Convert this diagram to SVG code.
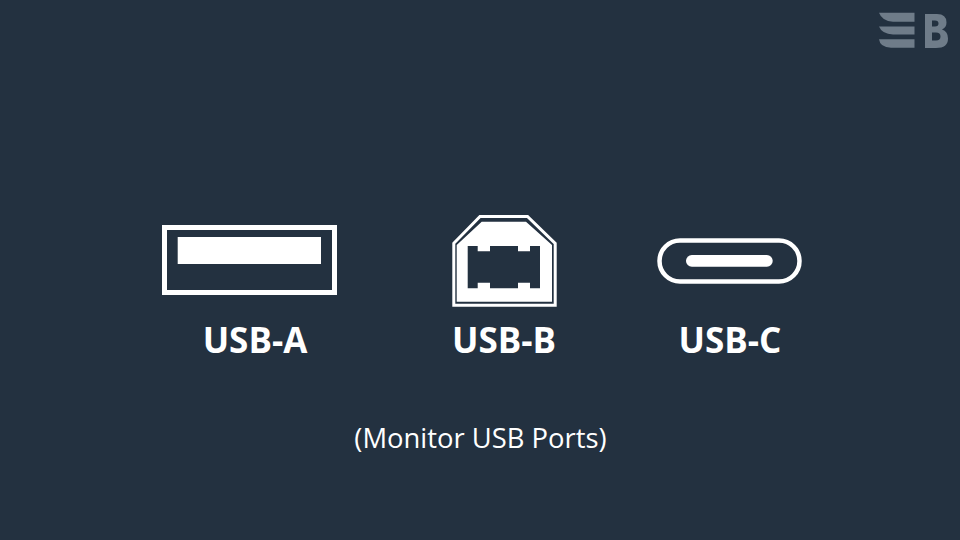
<svg xmlns="http://www.w3.org/2000/svg" width="960" height="540" viewBox="0 0 960 540">
<style>
.l{font-family:"Open Sans","Noto Sans",sans-serif;font-weight:700;font-size:35px;fill:#fff;text-anchor:middle}
.c{font-family:"Open Sans","Noto Sans",sans-serif;font-size:27.400px;fill:#fff;text-anchor:middle}
</style>
<rect width="960" height="540" fill="#233140"/>
<g id="logo" fill="#6f7c89">
<path d="M879 12.700H914.500V21.700H893Q882 21 879 12.700Z"/>
<path d="M879 26.500H914.500V34.500H893Q882 34 879 26.500Z"/>
<path d="M879 39.300H914.500V47.700H891Q880 47.500 879 39.300Z"/>
<path fill-rule="evenodd" d="M925 14H937Q946.500 14 946.500 22.500Q946.500 27.500 942 29.500Q948 31.500 948 38.500Q948 48 936 48H925ZM932 20.500V26.500H935Q938.500 26.500 938.500 23.500Q938.500 20.500 935 20.500ZM932 32.500V40.500H936Q940.500 40.500 940.500 36.500Q940.500 32.500 936 32.500Z"/>
</g>
<g id="usb-a">
<rect x="164.500" y="227.500" width="170" height="65" fill="none" stroke="#fff" stroke-width="5"/>
<rect x="177.700" y="237" width="143.300" height="27" fill="#fff"/>
<text class="l" x="255" y="353">USB-A</text>
</g>
<g id="usb-b">
<path d="M453.800 243.300L480 216.500H527.500L555.200 243.300V305.200H453.800Z" fill="none" stroke="#fff" stroke-width="3"/>
<path fill="#fff" fill-rule="evenodd" d="M456.700 245L481.700 221.700H526L552 245V301.700H456.700ZM467.700 246V288.300H477.700V282.700H490V288.300H518V282.700H530V288.300H540V246H530V251.300H518V246H490V251.300H477.700V246Z"/>
<text class="l" x="504" y="353">USB-B</text>
</g>
<g id="usb-c">
<rect x="659.500" y="240.500" width="140" height="41" rx="20.500" fill="none" stroke="#fff" stroke-width="4.500"/>
<rect x="686" y="255" width="86.700" height="11.700" rx="5.800" fill="#fff"/>
<text class="l" x="730" y="353">USB-C</text>
</g>
<text id="caption" class="c" x="480.500" y="448">(Monitor USB Ports)</text>
</svg>
